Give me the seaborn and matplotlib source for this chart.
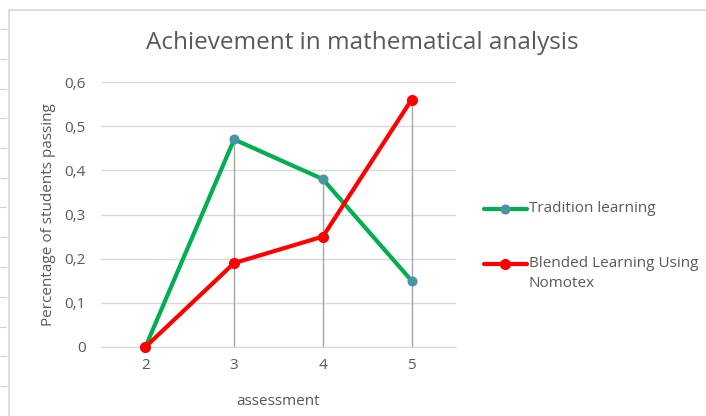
import matplotlib
matplotlib.use("Agg")

import pandas as pd
import matplotlib.pyplot as plt
import seaborn as sns
from matplotlib.lines import Line2D

assessment = ["2", "3", "4", "5"]
tradition = [0, 0.47, 0.38, 0.15]
blended = [0, 0.19, 0.25, 0.56]
series_names = ["Tradition learning", "Blended Learning Using\nNomotex"]
y_ticks = [0, 0.1, 0.2, 0.3, 0.4, 0.5, 0.6]

sns.set_style("white")
plt.rcParams["font.family"] = ["Open Sans", "DejaVu Sans"]

df = pd.DataFrame({
    "assessment": assessment * 2,
    "value": tradition + blended,
    "series": [series_names[0]] * 4 + [series_names[1]] * 4,
})

W, H = 706, 416
fig = plt.figure(figsize=(W / 100, H / 100), dpi=100)


def fx(px):
    return px / W


def fy(py):
    return 1 - py / H


# chart box edges (top and left) like the Excel chart frame
fig.lines.append(Line2D([fx(9), 1], [fy(10), fy(10)], transform=fig.transFigure,
                        color="#D9D9D9", linewidth=1.2))
fig.lines.append(Line2D([fx(9), fx(9)], [0, fy(10)], transform=fig.transFigure,
                        color="#D9D9D9", linewidth=1.2))
# spreadsheet row marks on the far left
for k in range(13):
    yy = 29 + k * 29.75
    fig.lines.append(Line2D([0, fx(6)], [fy(yy)] * 2, transform=fig.transFigure,
                            color="#CFCFCF", linewidth=0.8))

ax = fig.add_axes([fx(101), 69 / H, 355 / W, 265 / H])

# drop lines
for i in range(1, 4):
    top = max(tradition[i], blended[i])
    ax.plot([i, i], [0, top], color="#A6A6A6", linewidth=1, zorder=1)

sns.lineplot(data=df, x="assessment", y="value", hue="series",
             palette=["#00B050", "#FF0000"], linewidth=3, ax=ax, legend=False,
             sort=False, zorder=3)

green_marker = dict(marker="o", markersize=6, markerfacecolor="#3f9f8a",
                    markeredgecolor="#5B84C8", markeredgewidth=1.2)
red_marker = dict(marker="o", markersize=7, markerfacecolor="#FF0000",
                  markeredgecolor="#FF0000")
ax.plot(range(4), tradition, linestyle="none", zorder=4, **green_marker)
ax.plot(range(4), blended, linestyle="none", zorder=4, **red_marker)
for ln in ax.lines:
    ln.set_clip_on(False)

ax.set_xlim(-0.5, 3.5)
ax.set_ylim(0, 0.6)
ax.set_yticks(y_ticks)
ax.set_yticklabels(["0" if v == 0 else f"{v:.1f}".replace(".", ",") for v in y_ticks])
ax.yaxis.grid(True, color="#D9D9D9", linewidth=1)
ax.set_axisbelow(True)
for s in ["left", "right", "top"]:
    ax.spines[s].set_visible(False)
ax.spines["bottom"].set_color("#D9D9D9")
ax.tick_params(axis="both", length=0, labelsize=11, labelcolor="#595959")
ax.tick_params(axis="y", pad=11)
ax.tick_params(axis="x", pad=8)

ax.set_xlabel("assessment", fontsize=11, color="#595959", labelpad=15)
ax.set_ylabel("Percentage of students passing", fontsize=11, color="#595959", labelpad=6)
fig.text(fx(362), fy(43), "Achievement in mathematical analysis",
         ha="center", va="center", fontsize=17.5, color="#595959")

# legend drawn by hand so the marker sits on the first text line
legend_rows = [(209, green_marker, "#00B050"), (264, red_marker, "#FF0000")]
for (yy, mk, col), name in zip(legend_rows, series_names):
    fig.lines.append(Line2D([fx(484), fx(527)], [fy(yy)] * 2, transform=fig.transFigure,
                            color=col, linewidth=3))
    fig.lines.append(Line2D([fx(505)], [fy(yy)], transform=fig.transFigure,
                            linestyle="none", **mk))
    fig.text(fx(529), fy(yy - 8), name, ha="left", va="top", fontsize=11,
             color="#595959", linespacing=1.45)

fig.savefig("out.png", dpi=100)
